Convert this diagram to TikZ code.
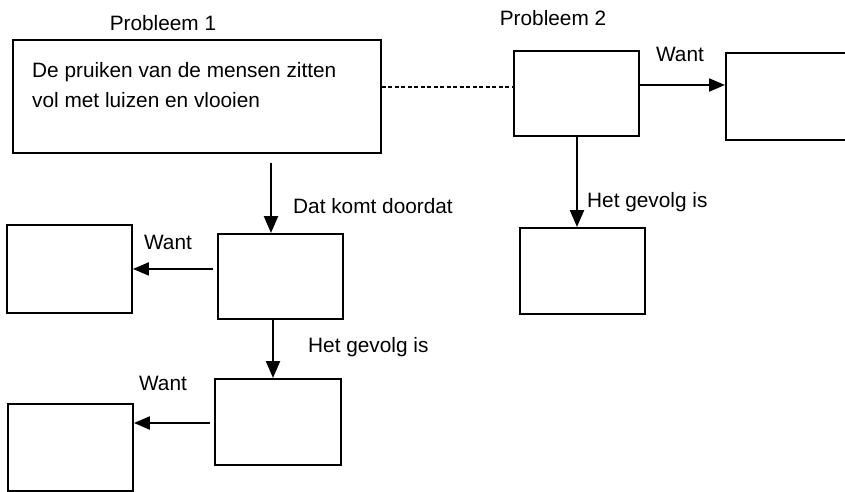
\documentclass[tikz,border=0pt]{standalone}
\usepackage{fontspec}
\setmainfont{Liberation Sans}
\usetikzlibrary{arrows.meta,calc}
\begin{document}
\begin{tikzpicture}[x=1pt,y=-1pt,
  box/.style={draw=black,line width=1.9pt,inner sep=0pt,anchor=north west,rectangle},
  lbl/.style={inner sep=0pt,font=\fontsize{20.8}{25}\selectfont},
  varr/.style={line width=2.4pt,-{Triangle[length=17pt,width=14pt]}},
  harr/.style={line width=2pt,-{Triangle[length=16pt,width=13pt]}},
  dashline/.style={line width=1.3pt,dash pattern=on 4pt off 2.5pt}]
\useasboundingbox (0,0) rectangle (845,492);
% boxes
\node[box,minimum width=368pt,minimum height=113pt] (p1) at (12,39) {};
\node[box,minimum width=125pt,minimum height=85pt] (p2) at (513,50) {};
\node[box,minimum width=150pt,minimum height=87pt] (r1) at (725,52) {};
\node[box,minimum width=125pt,minimum height=86pt] (b2) at (519,227) {};
\node[box,minimum width=125pt,minimum height=85pt] (m1) at (217,233) {};
\node[box,minimum width=125pt,minimum height=88pt] (l1) at (6,224) {};
\node[box,minimum width=126pt,minimum height=86pt] (m2) at (214,378) {};
\node[box,minimum width=125pt,minimum height=87pt] (l2) at (7,403) {};
% texts
\node[lbl] (t1) at (163,23) {Probleem 1};
\node[lbl] (t2) at (553,18) {Probleem 2};
\node[lbl,anchor=west] (p1a) at (32,72) {De pruiken van de mensen zitten};
\node[lbl,anchor=west] (p1b) at (32,100) {vol met luizen en vlooien};
\node[lbl] (w1) at (680,54) {Want};
\node[lbl,anchor=west] (d1) at (293,206) {Dat komt doordat};
\node[lbl,anchor=west] (g1) at (587,202) {Het gevolg is};
\node[lbl] (w2) at (168,242) {Want};
\node[lbl,anchor=west] (g2) at (308,347) {Het gevolg is};
\node[lbl] (w3) at (163,383) {Want};
% helper coordinates
\coordinate (yd) at (0,87);
\coordinate (yw) at (0,85);
\coordinate (c1) at (271,163);
\coordinate (xb) at (577,0);
\coordinate (xm) at (273,0);
\coordinate (c2) at (210,423);
% connectors
\draw[dashline] (p1.east |- yd) -- (p2.west |- yd);
\draw[harr] (p2.east |- yw) -- (r1.west |- yw);
\draw[varr] (c1) -- (c1 |- m1.north);
\draw[varr] (p2.south -| xb) -- (b2.north -| xb);
\draw[harr] ($(m1.west |- l1)+(-4,0)$) -- (l1.east);
\draw[varr] (m1.south -| xm) -- (m2.north -| xm);
\draw[harr] (c2) -- (l2.east |- c2);
\end{tikzpicture}
\end{document}
